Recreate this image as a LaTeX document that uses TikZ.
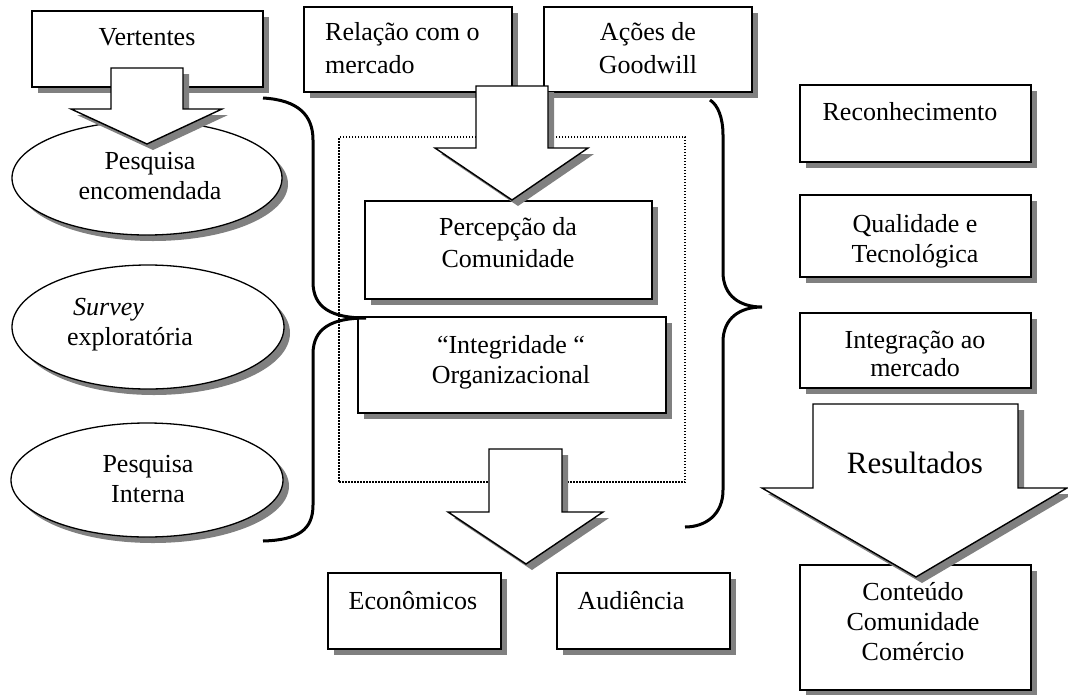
\documentclass[tikz,border=0pt]{standalone}
\usepackage{fontspec}
\setmainfont{Liberation Serif}
\usetikzlibrary{shapes.geometric,shadows}
\newcommand\dfs{\fontsize{26}{30}\selectfont}
\begin{document}
\begin{tikzpicture}[x=1pt,y=-1pt,
  shad/.style={drop shadow={shadow xshift=6pt,shadow yshift=-6pt,fill=black!50,opacity=1}},
  box/.style={draw,line width=1.5pt,fill=white,shad,inner sep=0pt,outer sep=0pt},
  oval/.style={ellipse,draw,line width=1.3pt,fill=white,shad,inner sep=0pt,outer sep=0pt},
  blockarrow/.style={draw,line width=1.4pt,fill=white,shad,line join=miter},
  brace/.style={line width=3pt},
  txt/.style={font=\dfs,inner sep=0pt,anchor=base,align=center},
  ltxt/.style={font=\dfs,inner sep=0pt,anchor=base west,align=left},
]
\useasboundingbox (0,0) rectangle (1068,694);

% ellipses
\node[oval,minimum width=270pt,minimum height=114pt] (enc) at (147,178) {};
\node[oval,minimum width=272pt,minimum height=124pt] (surv) at (148,327) {};
\node[oval,minimum width=272pt,minimum height=114pt] (intn) at (147,480) {};

% boxes
\node[box,minimum width=231pt,minimum height=76pt] (vert) at (147.5,49) {};
\node[box,minimum width=208pt,minimum height=85pt] (rel) at (408,49.5) {};
\node[box,minimum width=208pt,minimum height=85pt] (acoes) at (648,49.5) {};
\node[box,minimum width=287pt,minimum height=98pt] (perc) at (508.5,250) {};
\node[box,minimum width=308pt,minimum height=96pt] (integ) at (512,365) {};
\node[box,minimum width=231pt,minimum height=77pt] (recon) at (915.5,123.5) {};
\node[box,minimum width=231pt,minimum height=82pt] (qual) at (915.5,236) {};
\node[box,minimum width=231pt,minimum height=75pt] (integr) at (915.5,350.5) {};
\node[box,minimum width=173pt,minimum height=76pt] (econ) at (414.5,611) {};
\node[box,minimum width=173pt,minimum height=76pt] (aud) at (643.5,611) {};
\node[box,minimum width=231pt,minimum height=125pt] (cont) at (915.5,627.5) {};

% dotted frame
\node[draw,line width=1.5pt,dash pattern=on 1.5pt off 1.5pt,minimum width=346pt,minimum height=345pt,inner sep=0pt] (frame) at (512,309.5) {};

% texts (base anchor = last line baseline)
\node[txt] at (147,45) {Vertentes};
\node[ltxt] at (325,73) {Relação com o\\[3pt]mercado};
\node[txt] at (648,73) {Ações de\\[3pt]Goodwill};
\node[txt] at (150,199) {Pesquisa\\encomendada};
\node[ltxt] at (67,345) {\hspace{6pt}\itshape Survey\\exploratória};
\node[txt] at (148,502) {Pesquisa\\Interna};
\node[txt] at (508,267) {Percepção da\\[2pt]Comunidade};
\node[txt] at (511,383) {“Integridade “\\Organizacional};
\node[txt] at (910,120) {Reconhecimento};
\node[txt] at (915,262) {Qualidade e\\Tecnológica};
\node[txt] at (915,376) {Integração ao\\[-2pt]mercado};
\node[txt] at (413,609) {Econômicos};
\node[txt] at (631,609) {Audiência};
\node[txt] at (913,660) {Conteúdo\\Comunidade\\Comércio};

% block arrows
\path[blockarrow] (111,68) -- (183,68) -- (183,109) -- (222,109) -- (147,144) -- (71,109) -- (111,109) -- cycle;
\path[blockarrow] (476,86) -- (548,86) -- (548,148) -- (588,148) -- (512,200) -- (435,148) -- (476,148) -- cycle;
\path[blockarrow] (489,449) -- (562,449) -- (562,512) -- (603,512) -- (526,564) -- (448,512) -- (489,512) -- cycle;
\path[blockarrow] (813,404) -- (1018,404) -- (1018,488) -- (1067,488) -- (916,577) -- (762,488) -- (813,488) -- cycle;
\node[font=\fontsize{31}{36}\selectfont,inner sep=0pt,anchor=base] (res) at (915,473) {Resultados};

% braces
\coordinate (lb1) at (263,98);
\coordinate (lbp) at (366,318);
\coordinate (lb2) at (263,541);
\draw[brace] (lb1) .. controls (298,100) and (313,115) .. (313,140) -- (313,282)
  .. controls (313,308) and (332,318) .. (lbp)
  .. controls (332,318) and (313,328) .. (313,354) -- (313,505)
  .. controls (313,530) and (298,540) .. (lb2);
\coordinate (rb1) at (710,100);
\coordinate (rbp) at (762,307);
\coordinate (rb2) at (685,527);
\draw[brace] (rb1) .. controls (718,105) and (723,118) .. (723,135) -- (723,272)
  .. controls (723,296) and (740,307) .. (rbp)
  .. controls (740,307) and (723,318) .. (723,342) -- (723,490)
  .. controls (723,515) and (705,527) .. (rb2);
\end{tikzpicture}
\end{document}
